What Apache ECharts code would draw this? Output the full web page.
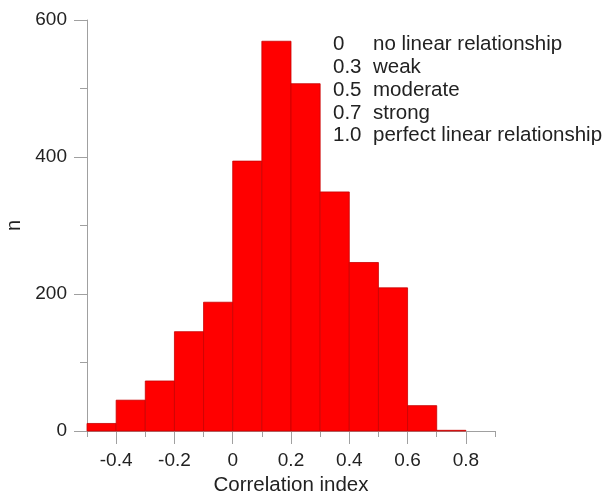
<!DOCTYPE html>
<html>
<head>
<meta charset="utf-8">
<script src="https://cdn.jsdelivr.net/npm/echarts@6/dist/echarts.min.js"></script>
<style>html,body{margin:0;padding:0;background:#fff}#c{width:605px;height:491px}</style>
</head>
<body>
<div id="c"></div>
<script>
// Histogram bins (lower edge, upper edge) and counts
var binStart = [-0.5, -0.4, -0.3, -0.2, -0.1, 0.0, 0.1, 0.2, 0.3, 0.4, 0.5, 0.6, 0.7];
var binEnd   = [-0.4, -0.3, -0.2, -0.1, 0.0, 0.1, 0.2, 0.3, 0.4, 0.5, 0.6, 0.7, 0.8];
var counts   = [11, 45, 73, 145, 188, 394, 569, 507, 349, 246, 209, 37, 1];
var xTickLabels = [-0.4, -0.2, 0, 0.2, 0.4, 0.6, 0.8];
var xMinorTicks = [-0.5, -0.4, -0.3, -0.2, -0.1, 0, 0.1, 0.2, 0.3, 0.4, 0.5, 0.6, 0.7, 0.8, 0.9];
var yTickLabels = [0, 200, 400, 600];
var yMinorTicks = [0, 100, 200, 300, 400, 500, 600];
var legendValues = ['0', '0.3', '0.5', '0.7', '1.0'];
var legendTexts = ['no linear relationship', 'weak', 'moderate', 'strong', 'perfect linear relationship'];

var FONT = 'Liberation Sans, Arial, sans-serif';
var AX = '#a0a0a0';
var data = binStart.map(function (s, i) { return [s, binEnd[i], counts[i]]; });

var graphics = [];
legendValues.forEach(function (v, i) {
  graphics.push({ type: 'text', left: 333, top: 34 + i * 22.8, style: { text: v, font: '20.5px ' + FONT, fill: '#222' } });
  graphics.push({ type: 'text', left: 373, top: 34 + i * 22.8, style: { text: legendTexts[i], font: '20.5px ' + FONT, fill: '#222' } });
});

var chart = echarts.init(document.getElementById('c'));
chart.setOption({
  animation: false,
  grid: { left: 87, right: 110, top: 20, bottom: 60, containLabel: false, outerBoundsMode: 'none' },
  xAxis: [{
    type: 'value', min: -0.5, max: 0.9, position: 'bottom',
    name: 'Correlation index', nameLocation: 'middle', nameGap: 42,
    nameTextStyle: { fontFamily: FONT, fontSize: 20.5, color: '#222' },
    axisLine: { show: true, onZero: false, lineStyle: { color: AX, width: 1 } },
    axisTick: { show: true, length: 13, lineStyle: { color: AX }, customValues: xTickLabels },
    axisLabel: { fontFamily: FONT, fontSize: 19, color: '#222', margin: 20, customValues: xTickLabels,
      formatter: function (v) { return String(Math.round(v * 10) / 10); } },
    splitLine: { show: false }
  }, {
    type: 'value', min: -0.5, max: 0.9, position: 'bottom',
    axisLine: { show: false, onZero: false },
    axisTick: { show: true, length: 6, lineStyle: { color: AX }, customValues: xMinorTicks },
    axisLabel: { show: false },
    splitLine: { show: false }
  }],
  yAxis: [{
    type: 'value', min: 0, max: 600, position: 'left',
    name: 'n', nameLocation: 'middle', nameGap: 62,
    nameTextStyle: { fontFamily: FONT, fontSize: 20, color: '#222' },
    axisLine: { show: true, onZero: false, lineStyle: { color: AX, width: 1 } },
    axisTick: { show: true, length: 13, lineStyle: { color: AX }, customValues: yTickLabels },
    axisLabel: { fontFamily: FONT, fontSize: 19, color: '#222', margin: 20, customValues: yTickLabels },
    splitLine: { show: false }
  }, {
    type: 'value', min: 0, max: 600, position: 'left',
    axisLine: { show: false, onZero: false },
    axisTick: { show: true, length: 7, lineStyle: { color: AX }, customValues: yMinorTicks },
    axisLabel: { show: false },
    splitLine: { show: false }
  }],
  series: [{
    type: 'custom',
    xAxisIndex: 0, yAxisIndex: 0,
    data: data,
    encode: { x: [0, 1], y: 2 },
    renderItem: function (params, api) {
      var p0 = api.coord([api.value(0), api.value(2)]);
      var p1 = api.coord([api.value(1), 0]);
      return {
        type: 'rect',
        shape: { x: p0[0], y: p0[1], width: p1[0] - p0[0], height: p1[1] - p0[1] },
        style: { fill: '#ff0000', stroke: '#c80000', lineWidth: 0.8 }
      };
    }
  }],
  graphic: graphics
});
</script>
</body>
</html>
